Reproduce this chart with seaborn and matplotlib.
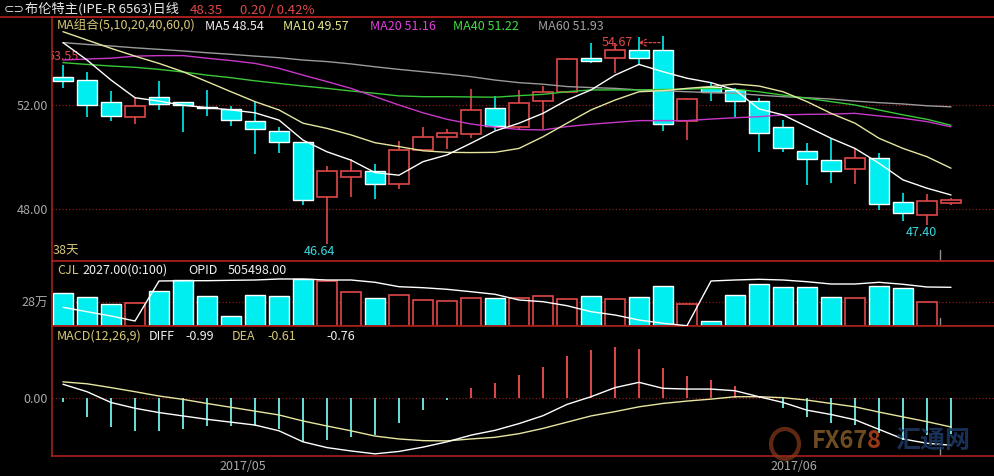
import numpy as np
import pandas as pd
import seaborn as sns
import matplotlib.pyplot as plt
from matplotlib.lines import Line2D
from matplotlib.patches import Ellipse

# daily candles, Brent (IPE-R 6563)
opens = [53.09, 52.96, 52.12, 51.55, 52.31, 52.13, 51.91, 51.85, 51.38, 50.99, 50.58, 48.45, 49.24,
         49.45, 48.95, 50.27, 50.76, 50.87, 51.87, 51.17, 52.17, 52.51, 53.81, 53.82, 54.12, 54.12,
         51.38, 52.68, 52.58, 52.15, 51.15, 50.24, 49.88, 49.55, 49.96, 48.27, 47.78, 48.22]
closes = [52.93, 52.00, 51.59, 51.95, 52.04, 52.00, 51.87, 51.43, 51.08, 50.59, 48.35, 49.45, 49.45,
          48.97, 50.26, 50.76, 50.91, 51.80, 51.19, 52.06, 52.50, 53.77, 53.70, 54.10, 53.82, 51.27,
          52.22, 52.51, 52.17, 50.93, 50.36, 49.94, 49.47, 49.97, 48.19, 47.86, 48.30, 48.35]
highs = [53.55, 53.28, 52.54, 52.32, 52.92, 52.13, 52.58, 51.96, 52.15, 51.17, 50.58, 49.65, 49.92,
         49.73, 50.62, 51.17, 51.08, 52.60, 52.35, 52.58, 52.73, 53.80, 54.37, 54.37, 54.60, 54.67,
         52.26, 52.90, 52.64, 52.26, 51.42, 50.53, 50.72, 50.31, 50.14, 48.60, 48.58, 48.43]
lows = [52.65, 51.55, 51.40, 51.27, 51.81, 50.97, 51.58, 51.19, 50.12, 50.14, 48.15, 46.64, 48.47,
        48.38, 48.77, 50.24, 50.31, 50.72, 51.04, 51.04, 51.07, 52.45, 53.60, 53.24, 53.57, 51.01,
        50.65, 52.15, 51.53, 50.20, 50.20, 48.92, 48.99, 48.96, 47.96, 47.55, 47.40, 48.15]

ma5 = [54.40, 53.73, 52.96, 52.28, 52.15, 51.99, 51.90, 51.81, 51.70, 51.42, 50.65, 50.20, 49.88,
       49.40, 49.30, 49.82, 50.08, 50.53, 51.00, 51.30, 51.68, 52.19, 52.58, 53.15, 53.56, 53.28,
       53.03, 52.86, 52.58, 51.85, 51.62, 51.17, 50.72, 50.33, 49.76, 49.12, 48.80, 48.54]
ma10 = [54.82, 54.50, 54.18, 53.88, 53.60, 53.28, 52.90, 52.51, 52.13, 51.81, 51.30, 51.10, 50.85,
        50.55, 50.40, 50.24, 50.18, 50.17, 50.18, 50.33, 50.78, 51.30, 51.81, 52.19, 52.51, 52.55,
        52.64, 52.71, 52.81, 52.73, 52.51, 52.13, 51.68, 51.30, 50.72, 50.33, 50.01, 49.57]
ma20 = [53.73, 53.77, 53.80, 53.88, 53.90, 53.90, 53.80, 53.71, 53.60, 53.41, 53.15, 52.90, 52.64,
        52.32, 52.00, 51.70, 51.45, 51.27, 51.15, 51.06, 51.04, 51.17, 51.26, 51.33, 51.40, 51.40,
        51.40, 51.46, 51.51, 51.55, 51.62, 51.64, 51.65, 51.68, 51.58, 51.49, 51.36, 51.16]
ma40 = [53.63, 53.56, 53.50, 53.45, 53.37, 53.27, 53.15, 53.05, 52.93, 52.83, 52.73, 52.64, 52.54,
        52.45, 52.35, 52.32, 52.32, 52.31, 52.30, 52.36, 52.41, 52.51, 52.58, 52.58, 52.58, 52.60,
        52.61, 52.64, 52.60, 52.51, 52.38, 52.26, 52.13, 52.00, 51.81, 51.62, 51.45, 51.22]
ma60 = [54.40, 54.33, 54.27, 54.20, 54.14, 54.08, 54.01, 53.95, 53.88, 53.82, 53.73, 53.67, 53.58,
        53.47, 53.37, 53.28, 53.19, 53.09, 52.96, 52.86, 52.80, 52.71, 52.67, 52.64, 52.58, 52.55,
        52.51, 52.48, 52.45, 52.38, 52.32, 52.28, 52.23, 52.15, 52.09, 52.04, 51.97, 51.93]

# volume (万手) and open interest (万)
vol = [39.3, 34.6, 26.0, 26.8, 41.7, 54.3, 35.8, 11.8, 37.0, 35.8, 55.5, 53.2, 39.8, 33.4, 36.2,
       30.7, 29.5, 33.1, 33.4, 32.7, 35.1, 31.9, 35.4, 31.9, 34.3, 47.3, 25.6, 5.9, 36.6, 49.6,
       46.5, 46.5, 34.3, 32.7, 47.7, 45.3, 28.0, 0.2]
opi = [46.55, 45.67, 44.81, 43.81, 51.81, 51.87, 51.87, 51.95, 52.01, 52.21, 52.21, 52.01, 52.01,
       51.55, 50.67, 50.47, 50.15, 49.67, 49.15, 48.01, 47.67, 46.87, 45.67, 45.01, 44.01, 43.35,
       42.87, 51.81, 52.01, 52.15, 52.01, 51.67, 51.21, 51.21, 51.55, 51.15, 50.61, 50.55]

# MACD(12,26,9)
diff = [0.28, 0.125, -0.10, -0.22, -0.31, -0.38, -0.45, -0.51, -0.57, -0.69, -0.92, -1.04, -1.11,
        -1.17, -1.12, -1.03, -0.92, -0.78, -0.68, -0.54, -0.375, -0.14, 0.02, 0.21, 0.32, 0.195,
        0.18, 0.18, 0.145, 0.02, -0.10, -0.26, -0.35, -0.46, -0.66, -0.86, -0.95, -0.99]
dea = [0.33, 0.29, 0.21, 0.125, 0.035, -0.035, -0.12, -0.20, -0.28, -0.36, -0.485, -0.59, -0.69,
       -0.80, -0.86, -0.895, -0.90, -0.86, -0.825, -0.75, -0.64, -0.51, -0.38, -0.29, -0.19, -0.12,
       -0.07, -0.03, 0.02, 0.02, 0.0, -0.05, -0.12, -0.19, -0.30, -0.40, -0.50, -0.61]
macd = [-0.10, -0.40, -0.62, -0.69, -0.69, -0.65, -0.60, -0.58, -0.60, -0.65, -0.93, -0.88, -0.81,
        -0.78, -0.52, -0.26, -0.05, 0.21, 0.31, 0.47, 0.65, 0.87, 0.99, 1.05, 1.01, 0.61, 0.45,
        0.37, 0.24, 0.04, -0.21, -0.40, -0.53, -0.57, -0.74, -0.88, -0.78, -0.76]

month_labels = ['2017/05', '2017/06']

sns.set_theme(style="dark", rc={'figure.facecolor': 'black', 'axes.facecolor': 'black',
                                'savefig.facecolor': 'black'})
plt.rcParams['font.family'] = ['Noto Sans CJK SC', 'DejaVu Sans']

RED = '#e04848'
CYAN = '#00eef0'
FRAME = '#a8201c'
GRID = '#9a2020'
GRAY = '#a8a8a8'
YEL = '#d8c878'

W, H = 994, 476
fig = plt.figure(figsize=(W / 100, H / 100), dpi=100)


def box(x0, y0, x1, y1):
    return [x0 / W, 1 - y1 / H, (x1 - x0) / W, (y1 - y0) / H]


def ftxt(x, y, s, color, size=9, **kw):
    fig.text(x / W, 1 - y / H, s, color=color, fontsize=size, va='center', ha='left', **kw)


ax_k = fig.add_axes(box(52, 17, 994, 261))
ax_v = fig.add_axes(box(52, 261, 994, 326))
ax_m = fig.add_axes(box(52, 326, 994, 456))

df = pd.DataFrame({'open': opens, 'close': closes, 'high': highs, 'low': lows,
                   'ma5': ma5, 'ma10': ma10, 'ma20': ma20, 'ma40': ma40, 'ma60': ma60,
                   'vol': vol, 'opi': opi, 'diff': diff, 'dea': dea, 'macd': macd})
df['x'] = np.arange(len(df))
up = df[df.close >= df.open]
dn = df[df.close < df.open]
w = 0.85
cursor = 36.54

# candles
ax_k.vlines(dn.x, dn.low, dn.high, color=CYAN, lw=1.2, zorder=2)
ax_k.bar(dn.x, dn.open - dn.close, bottom=dn.close, width=w, color=CYAN, zorder=3)
ax_k.vlines(up.x, up.close, up.high, color=RED, lw=1.2, zorder=2)
ax_k.vlines(up.x, up.low, up.open, color=RED, lw=1.2, zorder=2)
ax_k.bar(up.x, up.close - up.open, bottom=up.open, width=w, facecolor='black',
         edgecolor=RED, lw=1.2, zorder=3)

for col, c in [('ma60', '#9a9a9a'), ('ma40', '#38c838'), ('ma20', '#c838c8'),
               ('ma10', '#e6e6a0'), ('ma5', '#ffffff')]:
    sns.lineplot(data=df, x='x', y=col, ax=ax_k, color=c, lw=1.0, zorder=4)

ax_k.set_xlim(-11 / 24, 931 / 24)
ax_k.set_ylim(46.0, 55.385)
for lvl in [48, 52]:
    ax_k.axhline(lvl, color=GRID, ls=(0, (1, 2)), lw=0.8, zorder=1)
ax_k.set_yticks([48, 52], ['48.00', '52.00'])
ax_k.axvline(cursor, ymin=0, ymax=0.045, color='#909090', lw=1)

ax_k.text(-0.62, 53.85, '53.55', color=RED, fontsize=9, va='center', ha='left', clip_on=True)
ax_k.text(23.75, 54.4, '54.67', color=RED, fontsize=9, va='center', ha='right')
ax_k.annotate('', xy=(23.85, 54.4), xytext=(25, 54.4),
              arrowprops=dict(arrowstyle='->', ls=(0, (2, 1.5)), color=RED, lw=0.9))
ax_k.text(10.7, 46.35, '46.64', color='#38d8e0', fontsize=9, va='center', ha='center')
ax_k.text(35.75, 47.08, '47.40', color='#38d8e0', fontsize=9, va='center', ha='center')
ax_k.text(-0.42, 46.38, '38天', color=YEL, fontsize=9, va='center', ha='left')

# volume + open interest
ax_v.bar(dn.x, dn.vol, width=w, color=CYAN, zorder=2)
ax_v.bar(up.x, up.vol, width=w, facecolor='black', edgecolor=RED, lw=1.2, zorder=2)
ax_v.axhline(28, color=GRID, ls=(0, (1, 2)), lw=0.8, zorder=1)
ax_v.axvline(cursor, ymin=0, ymax=0.13, color='#909090', lw=1)
ax_v.set_xlim(-11 / 24, 931 / 24)
ax_v.set_ylim(0, 76.8)
ax_v.set_yticks([28], ['28万'])
ax_o = ax_v.twinx()
ax_o.patch.set_visible(False)
sns.lineplot(data=df, x='x', y='opi', ax=ax_o, color='white', lw=1.0)
ax_o.set_ylim(42.81, 55.81)
ax_o.set_xlim(-11 / 24, 931 / 24)
ax_o.axis('off')

# MACD
pos = df[df.macd >= 0]
neg = df[df.macd < 0]
ax_m.vlines(pos.x, 0, pos.macd, color=RED, lw=1.4, zorder=2)
ax_m.vlines(neg.x, 0, neg.macd, color='#68e0d8', lw=1.4, zorder=2)
ax_m.axhline(0, color=GRID, ls=(0, (1, 2)), lw=0.8, zorder=1)
sns.lineplot(data=df, x='x', y='dea', ax=ax_m, color='#e6e6a0', lw=1.0, zorder=3)
sns.lineplot(data=df, x='x', y='diff', ax=ax_m, color='white', lw=1.0, zorder=4)
ax_m.axvline(cursor, ymin=0, ymax=0.07, color='#909090', lw=1)
ax_m.set_xlim(-11 / 24, 931 / 24)
ax_m.set_ylim(-1.215, 1.494)
ax_m.set_yticks([0], ['0.00'])
ax_m.set_xticks([7.5, 30.46], month_labels)

for ax in [ax_k, ax_v, ax_m]:
    ax.set_xlabel('')
    ax.set_ylabel('')
    ax.grid(False)
    ax.tick_params(length=0, colors=GRAY, labelsize=9, pad=3)
    if ax is not ax_m:
        ax.set_xticks([])
    for s in ['left', 'top', 'bottom']:
        ax.spines[s].set_visible(True)
        ax.spines[s].set_color(FRAME)
        ax.spines[s].set_linewidth(1.2)
    ax.spines['right'].set_visible(False)

fig.add_artist(Line2D([0, 1], [1 - 17 / H] * 2, color=FRAME, lw=1.2))

# header rows
ftxt(4, 9, '⊂⊃', '#d0d0d0', 9, family=['DejaVu Sans'])
ftxt(25, 9, '布伦特主(IPE-R 6563)日线', '#e8e8e8', 9.5)
ftxt(190, 10, '48.35', RED, 9.5)
ftxt(240, 10, '0.20 / 0.42%', RED, 9.5)

ftxt(57, 26, 'MA组合(5,10,20,40,60,0)', YEL)
ftxt(205, 26, 'MA5 48.54', '#f0f0f0')
ftxt(283, 26, 'MA10 49.57', '#e6e68c')
ftxt(370, 26, 'MA20 51.16', '#e040e0')
ftxt(453, 26, 'MA40 51.22', '#40e040')
ftxt(538, 26, 'MA60 51.93', '#a0a0a0')

ftxt(57, 270, 'CJL', YEL)
ftxt(82, 270, '2027.00(0:100)', '#f0f0f0')
ftxt(188, 270, 'OPID', '#f0f0f0')
ftxt(228, 270, '505498.00', '#f0f0f0')

ftxt(57, 336, 'MACD(12,26,9)', YEL)
ftxt(149, 336, 'DIFF', '#f0f0f0')
ftxt(185, 336, '-0.99', '#f0f0f0')
ftxt(232, 336, 'DEA', YEL)
ftxt(267, 336, '-0.61', YEL)
ftxt(326, 336, '-0.76', '#f0f0f0')

# watermark
fig.add_artist(Ellipse((785 / W, 1 - 444 / H), 28 / W, 30 / H, fill=False,
                       edgecolor='#8a3a1a', lw=3, alpha=0.7))
ftxt(812, 441, 'FX67', '#7a5526', 17, weight='bold', alpha=0.9)
ftxt(867, 441, '8', '#a8401c', 17, weight='bold', alpha=0.9)
ftxt(895, 441, '汇通网', '#1c3660', 18, weight='bold', alpha=0.9)

fig.savefig('out.png', dpi=100, facecolor='black')
